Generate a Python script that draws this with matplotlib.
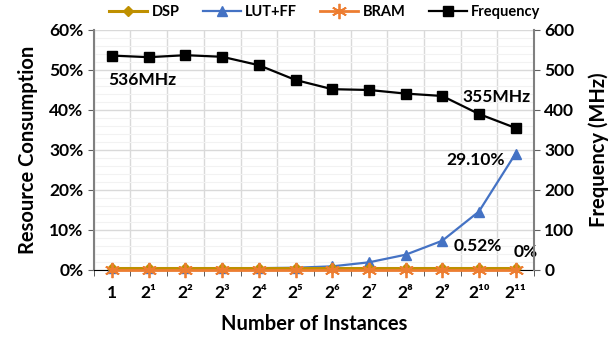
import numpy as np
import matplotlib.pyplot as plt
from matplotlib.ticker import MultipleLocator, FuncFormatter

plt.rcParams['font.family'] = ['Lato', 'DejaVu Sans']
plt.rcParams['font.weight'] = 'bold'

# datos
instancias = ['1', '2¹', '2²', '2³', '2⁴', '2⁵', '2⁶', '2⁷', '2⁸', '2⁹', '2¹⁰', '2¹¹']
dsp = [0.52] * 12
lut_ff = [0.4, 0.4, 0.4, 0.4, 0.45, 0.55, 0.9, 1.9, 3.8, 7.3, 14.6, 29.1]
bram = [0.0] * 12
frecuencia = [536, 532, 537, 533, 512, 475, 452, 450, 441, 435, 390, 355]

x = np.arange(len(instancias))

fig = plt.figure(figsize=(6.13, 3.37), dpi=100)
ax = fig.add_axes([0.153, 0.199, 0.718, 0.712])
ax2 = ax.twinx()

ax.plot(x, lut_ff, color='#4472c4', marker='^', markersize=7, lw=1.6, label='LUT+FF',
        zorder=3, clip_on=False)
ax.plot(x, dsp, color='#bf9000', marker='D', markersize=5.5, lw=2.2, label='DSP',
        zorder=4, clip_on=False)
ax.plot(x, bram, color='#ed7d31', marker=(6, 2, 0), markersize=11, mew=1.3, lw=2.0,
        label='BRAM', zorder=5, clip_on=False)

ax2.plot(x, frecuencia, color='black', marker='s', markersize=7, lw=1.6, label='Frequency')

ax.set_xlim(-0.5, len(x) - 0.5)
ax.set_ylim(0, 60)
ax2.set_ylim(0, 600)
ax.yaxis.set_major_locator(MultipleLocator(10))
ax.yaxis.set_minor_locator(MultipleLocator(2))
ax.yaxis.set_major_formatter(FuncFormatter(lambda v, p: '%d%%' % v))
ax2.yaxis.set_major_locator(MultipleLocator(100))

ax.set_xticks(x)
ax.set_xticklabels(instancias, fontsize=12.5, fontweight='bold')
ax.set_xticks(np.arange(-0.5, len(x)), minor=True)
ax.tick_params(axis='x', which='major', length=0, pad=11)
ax.tick_params(axis='x', which='minor', length=4, color='#404040', direction='out')
ax.tick_params(axis='y', which='major', labelsize=12.5, length=4, color='#606060')
ax.tick_params(axis='y', which='minor', length=0)
ax2.tick_params(axis='y', labelsize=12.5, length=4, color='#606060')
for t in ax.get_yticklabels() + ax2.get_yticklabels():
    t.set_fontweight('bold')

ax.grid(axis='y', which='major', color='#d9d9d9', lw=1.0)
ax.grid(axis='y', which='minor', color='#f2f2f2', lw=0.8)
ax.grid(axis='x', which='minor', color='#d9d9d9', lw=1.0)
ax.set_axisbelow(True)

ax.spines['top'].set_visible(False)
ax2.spines['top'].set_visible(False)
ax.spines['left'].set_color('#808080')
ax.spines['left'].set_linewidth(1.5)
ax2.spines['right'].set_color('#808080')
ax2.spines['right'].set_linewidth(1.5)
ax2.spines['left'].set_visible(False)
ax.spines['bottom'].set_color('black')
ax2.spines['bottom'].set_visible(False)
ax.spines['right'].set_visible(False)

ax.set_xlabel('Number of Instances', fontsize=14.5, fontweight='bold', labelpad=9)
ax.set_ylabel('Resource Consumption', fontsize=14.5, fontweight='bold', labelpad=8)
ax2.set_ylabel('Frequency (MHz)', fontsize=14.5, fontweight='bold', labelpad=10)

ax2.text(-0.1, 475, '536MHz', fontsize=12.5, fontweight='bold', va='center', ha='left')
ax2.text(11.42, 432, '355MHz', fontsize=12.5, fontweight='bold', va='center', ha='right')
ax.text(10.7, 27.6, '29.10%', fontsize=12.5, fontweight='bold', va='center', ha='right')
ax.text(10.62, 6.1, '0.52%', fontsize=12.5, fontweight='bold', va='center', ha='right')
ax.text(10.95, 4.6, '0%', fontsize=12.5, fontweight='bold', va='center', ha='left')

h1, l1 = ax.get_legend_handles_labels()
h2, l2 = ax2.get_legend_handles_labels()
orden = [1, 0, 2]
handles = [h1[i] for i in orden] + h2
labels = [l1[i] for i in orden] + l2
fig.legend(handles, labels, loc='center', bbox_to_anchor=(0.53, 0.965), ncol=4,
           frameon=False, handlelength=2.6, columnspacing=1.6, handletextpad=0.3,
           borderpad=0.1, prop={'weight': 'bold', 'size': 10.5})

fig.savefig('out.png', dpi=100)
